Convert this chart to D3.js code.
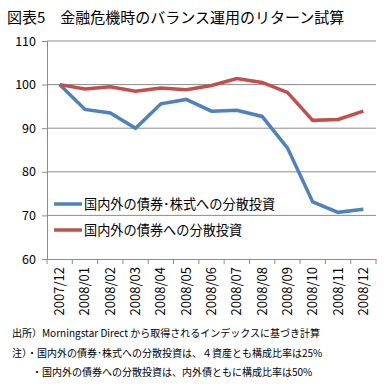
<!doctype html>
<html>
<head>
<meta charset="utf-8">
<script src="https://d3js.org/d3.v7.min.js"></script>
<style>
body {margin:0; background:#fff;}
text {font-family:"Noto Sans CJK JP", sans-serif;}
</style>
</head>
<body>
<svg width="389" height="384" class="chart"></svg>
<script>
var months = ["2007/12","2008/01","2008/02","2008/03","2008/04","2008/05","2008/06","2008/07","2008/08","2008/09","2008/10","2008/11","2008/12"];
var stockBond = [100, 94.3, 93.5, 90.0, 95.6, 96.6, 93.9, 94.1, 92.7, 85.5, 73.1, 70.7, 71.4];
var bondOnly = [100, 99.0, 99.5, 98.5, 99.2, 98.8, 99.8, 101.4, 100.5, 98.2, 91.8, 92.0, 93.9];
var yTicks = [60, 70, 80, 90, 100, 110];
var seriesNames = ["国内外の債券･株式への分散投資", "国内外の債券への分散投資"];
var colors = ["#4f81bd", "#c0504d"];

var svg = d3.select(".chart");
var pL = 47, pR = 376, pT = 41, pB = 259;

var x = d3.scaleBand().domain(months).range([pL, pR]);
var y = d3.scaleLinear().domain([60, 110]).range([pB, pT]);

// title
svg.append("text").attr("x", 7).attr("y", 23)
  .style("font-size", "15px").text("図表5　金融危機時のバランス運用のリターン試算");

// grid
svg.append("g").selectAll("line").data(yTicks.slice(1)).enter().append("line")
  .attr("x1", pL).attr("x2", pR)
  .attr("y1", function(d){return y(d);}).attr("y2", function(d){return y(d);})
  .style("stroke", "#8c8c8c").style("stroke-width", 1);

// y axis
var ya = svg.append("g").attr("transform", "translate(" + pL + ",0)")
  .call(d3.axisLeft(y).tickValues(yTicks).tickSize(5).tickPadding(6));
ya.select(".domain").style("stroke", "#8c8c8c");
ya.selectAll("line").style("stroke", "#8c8c8c");
ya.selectAll("text").style("font-size", "12.5px").style("fill", "#000").attr("font-family", null);

// x axis
var xa = svg.append("g").attr("transform", "translate(0," + pB + ")")
  .call(d3.axisBottom(x).tickSize(0).tickPadding(0));
xa.select(".domain").style("stroke", "#8c8c8c");
xa.selectAll(".tick").remove();
xa.selectAll(".bt").data(months.concat(["end"])).enter().append("line")
  .attr("x1", function(d, i){return pL + i * x.step();})
  .attr("x2", function(d, i){return pL + i * x.step();})
  .attr("y1", 0).attr("y2", 5).style("stroke", "#8c8c8c");
xa.selectAll(".lbl").data(months).enter().append("text")
  .attr("transform", function(d){return "translate(" + (x(d) + x.bandwidth()/2 + 4.5) + ",8) rotate(-90)";})
  .attr("text-anchor", "end")
  .attr("font-family", null)
  .style("font-size", "13px").style("fill", "#000")
  .text(function(d){return d;});

// lines
var line = d3.line()
  .x(function(d, i){return x(months[i]) + x.bandwidth()/2;})
  .y(function(d){return y(d);});
[stockBond, bondOnly].forEach(function(s, k){
  svg.append("path").datum(s).attr("d", line)
    .style("fill", "none").style("stroke", colors[k]).style("stroke-width", 3.5);
});

// legend
seriesNames.forEach(function(n, k){
  var ly = 204 + k * 26;
  svg.append("line").attr("x1", 54).attr("x2", 82).attr("y1", ly).attr("y2", ly)
    .style("stroke", colors[k]).style("stroke-width", 3.5);
  svg.append("text").attr("x", 84).attr("y", ly + 5).style("font-size", "13.2px").text(n);
});

// notes
var notes = ["出所）Morningstar Direct から取得されるインデックスに基づき計算",
             "注）・国内外の債券･株式への分散投資は、４資産とも構成比率は25%",
             "　　・国内外の債券への分散投資は、内外債ともに構成比率は50%"];
notes.forEach(function(n, i){
  svg.append("text").attr("x", 12).attr("y", 337 + i * 19.5).style("font-size", "10px").text(n);
});
</script>
</body>
</html>
